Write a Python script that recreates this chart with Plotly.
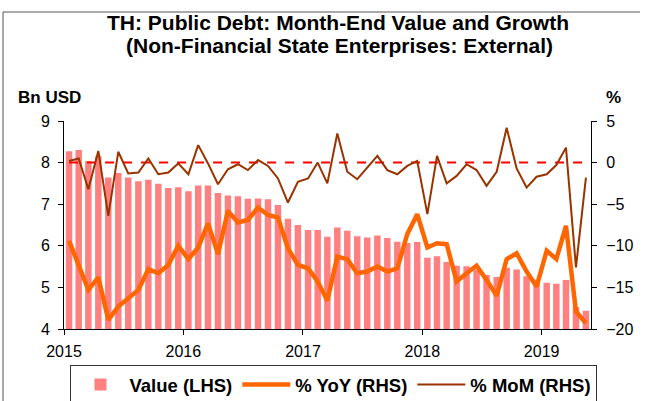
import plotly.graph_objects as go
import pandas as pd

months = pd.date_range("2015-01-01", periods=53, freq="MS").strftime("%Y-%m-%d").tolist()

value_lhs = [8.27, 8.30, 8.04, 8.15, 7.64, 7.75, 7.64, 7.55, 7.59, 7.49, 7.39, 7.41,
             7.31, 7.45, 7.45, 7.27, 7.21, 7.19, 7.13, 7.14, 7.12, 6.98, 6.65, 6.50,
             6.38, 6.38, 6.22, 6.44, 6.36, 6.23, 6.20, 6.25, 6.19, 6.10, 6.07, 6.09,
             5.71, 5.75, 5.61, 5.52, 5.51, 5.42, 5.30, 5.25, 5.47, 5.43, 5.27, 5.19,
             5.11, 5.09, 5.18, 4.53, 4.44]

yoy_rhs = [-9.4, -12.5, -15.3, -13.8, -18.9, -17.3, -16.3, -15.3, -12.8, -13.3, -12.3, -10.0,
           -11.6, -10.2, -7.3, -11.0, -5.8, -7.2, -6.9, -5.4, -6.3, -6.6, -10.3, -12.3,
           -12.7, -14.3, -16.6, -11.3, -11.6, -13.3, -13.1, -12.5, -13.1, -12.7, -8.6, -6.2,
           -10.2, -9.7, -9.8, -14.3, -13.3, -12.4, -14.1, -16.0, -11.6, -10.9, -13.1, -14.9,
           -10.6, -11.6, -7.6, -17.9, -19.3]

mom_rhs = [0.2, 0.5, -3.2, 1.4, -6.4, 1.3, -1.3, -1.2, 0.5, -1.4, -1.2, -0.1,
           -1.4, 2.1, -0.1, -2.6, -0.8, -0.2, -0.9, 0.3, -0.4, -1.9, -4.8, -2.3,
           -1.9, 0.0, -2.5, 3.5, -1.1, -2.0, -0.6, 0.8, -0.9, -1.4, -0.4, 0.2,
           -6.2, 0.8, -2.5, -1.6, -0.2, -0.9, -2.8, -1.1, 4.2, -0.7, -3.0, -1.7,
           -1.4, -0.3, 1.8, -12.6, -1.8]

zero_ref = [0] * len(months)

year_ticks = ["2015-01-01", "2016-01-01", "2017-01-01", "2018-01-01", "2019-01-01"]
year_labels = ["2015", "2016", "2017", "2018", "2019"]

title_lines = ["TH: Public Debt: Month-End Value and Growth",
               "(Non-Financial State Enterprises: External)"]

FONT = "Liberation Sans, Arial, sans-serif"
W, H = 646, 401
ML, MR, MT, MB = 64, 55, 121, 72
PW, PH = W - ML - MR, H - MT - MB

def px_x(px):
    return (px - ML) / PW

def px_y(py):
    return (H - MB - py) / PH

fig = go.Figure()
fig.add_trace(go.Bar(
    x=months, y=value_lhs, name="<b>Value (LHS)</b>",
    marker=dict(color="#FF8080", line=dict(width=0)),
    xperiod="M1", xperiodalignment="middle", yaxis="y",
))
fig.add_trace(go.Scatter(
    x=months, y=zero_ref, mode="lines", showlegend=False, hoverinfo="skip",
    line=dict(color="#FF0000", width=2, dash="dash"),
    xperiod="M1", xperiodalignment="middle", yaxis="y2",
))
fig.add_trace(go.Scatter(
    x=months, y=yoy_rhs, mode="lines", name="<b>% YoY (RHS)</b>",
    line=dict(color="#FF6600", width=4.5),
    xperiod="M1", xperiodalignment="middle", yaxis="y2",
))
fig.add_trace(go.Scatter(
    x=months, y=mom_rhs, mode="lines", name="<b>% MoM (RHS)</b>",
    line=dict(color="#993300", width=2),
    xperiod="M1", xperiodalignment="middle", yaxis="y2",
))

fig.update_layout(
    width=W, height=H,
    margin=dict(l=ML, r=MR, t=MT, b=MB, pad=0, autoexpand=False),
    paper_bgcolor="white", plot_bgcolor="white",
    font=dict(family=FONT, size=15, color="black"),
    bargap=0.33,
    showlegend=True,
    legend=dict(
        orientation="h", xref="container", yref="container",
        x=0.517, xanchor="center", y=0.09, yanchor="top",
        bordercolor="#333333", borderwidth=1, bgcolor="white",
        font=dict(family=FONT, size=18.5, color="black"),
        itemwidth=48, tracegroupgap=0,
    ),
    xaxis=dict(
        type="date", range=["2015-01-01", "2019-06-01"],
        tickvals=year_ticks, ticktext=year_labels,
        ticks="outside", ticklen=5, tickcolor="black",
        showline=True, linecolor="black", linewidth=1,
        showgrid=False, zeroline=False, automargin=False,
        tickfont=dict(size=16), ticklabelstandoff=3,
    ),
    yaxis=dict(
        range=[4, 9], dtick=1, tick0=4,
        ticks="outside", ticklen=5, tickcolor="black",
        showline=True, linecolor="black", linewidth=1,
        showgrid=False, zeroline=False, automargin=False,
        tickfont=dict(size=16), ticklabelstandoff=5,
    ),
    yaxis2=dict(
        range=[-20, 5], dtick=5, tick0=-20, overlaying="y", side="right",
        ticks="outside", ticklen=5, tickcolor="black",
        showline=True, linecolor="black", linewidth=1,
        showgrid=False, zeroline=False, automargin=False,
        tickfont=dict(size=16), ticklabelstandoff=6,
    ),
    annotations=[
        dict(text="<b>" + title_lines[0] + "</b>",
             xref="paper", yref="paper", x=px_x(338), y=px_y(23), xanchor="center", yanchor="middle",
             showarrow=False, font=dict(size=21, family=FONT)),
        dict(text="<b>" + title_lines[1] + "</b>",
             xref="paper", yref="paper", x=px_x(339), y=px_y(45), xanchor="center", yanchor="middle",
             showarrow=False, font=dict(size=21, family=FONT)),
        dict(text="<b>Bn USD</b>", xref="paper", yref="paper", x=px_x(16), y=px_y(98),
             xanchor="left", yanchor="middle", showarrow=False, font=dict(size=17, family=FONT)),
        dict(text="<b>%</b>", xref="paper", yref="paper", x=px_x(604), y=px_y(98),
             xanchor="left", yanchor="middle", showarrow=False, font=dict(size=17, family=FONT)),
    ],
    shapes=[
        dict(type="line", xref="paper", yref="paper", x0=px_x(3), x1=px_x(3), y0=px_y(12), y1=px_y(401),
             line=dict(color="#555555", width=1)),
        dict(type="line", xref="paper", yref="paper", x0=px_x(3), x1=px_x(640), y0=px_y(12), y1=px_y(12),
             line=dict(color="#555555", width=1)),
    ],
)

fig.write_html("out.html", config={"displayModeBar": False},
               post_script="document.body.style.margin='0';document.body.style.padding='0';")
